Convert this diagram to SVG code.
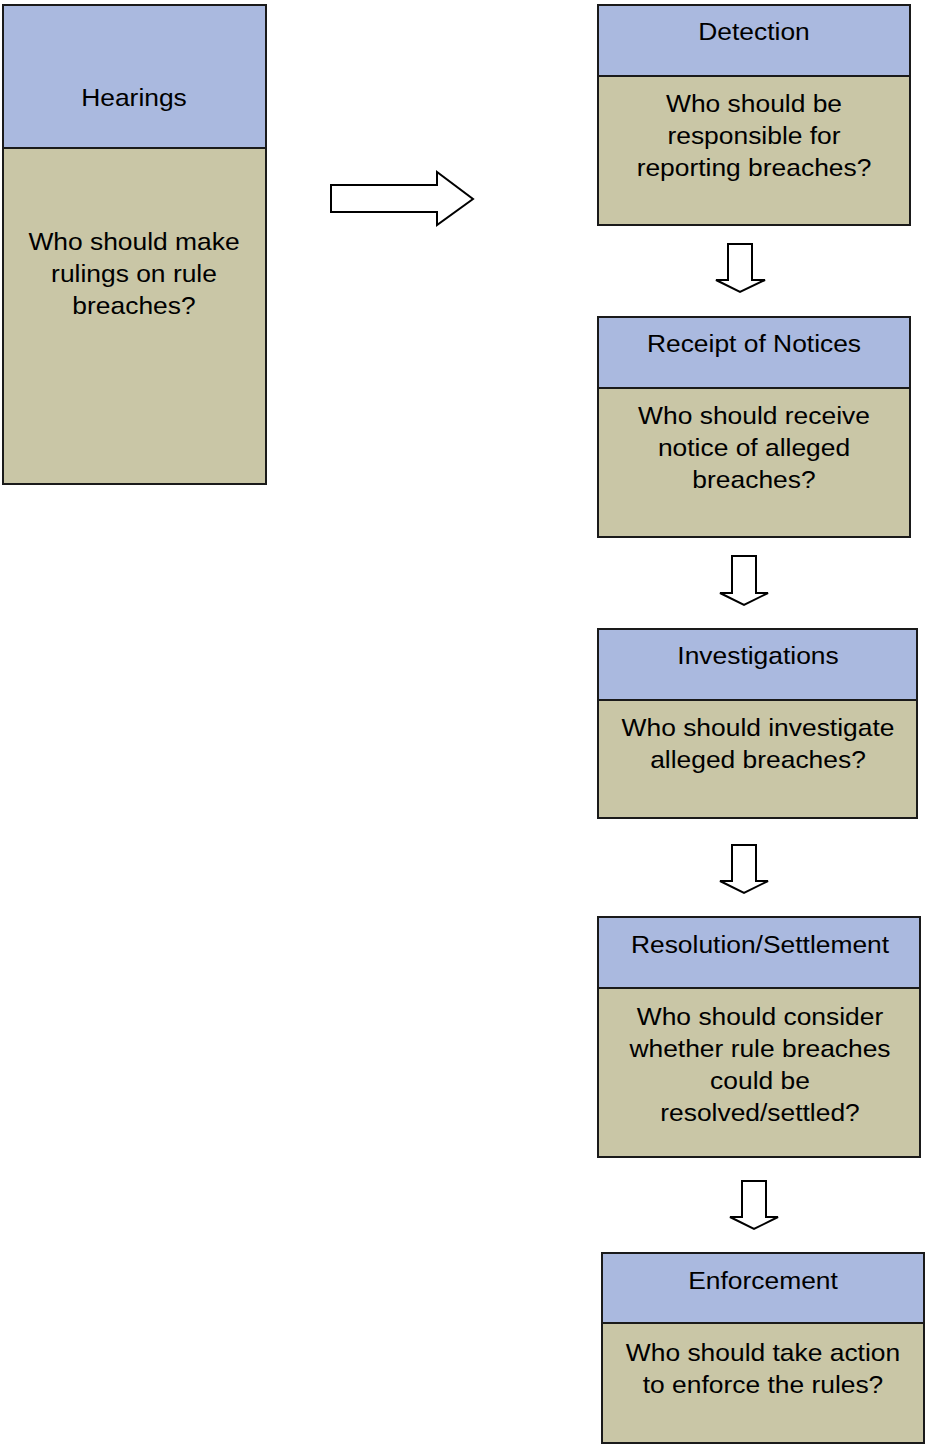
<svg xmlns="http://www.w3.org/2000/svg" width="926" height="1445" viewBox="0 0 926 1445">
<style>
.hd{fill:#aab9df;stroke:#1a1a1a;stroke-width:2}
.bd{fill:#c9c6a6;stroke:#1a1a1a;stroke-width:2}
.t{font-family:"Liberation Sans",Arial,sans-serif;font-size:24px;fill:#000;text-anchor:middle}
.ar{fill:#fff;stroke:#000;stroke-width:2;stroke-linejoin:miter}
</style>
<rect width="926" height="1445" fill="#fff"/>
<g id="hearings">
<rect class="bd" x="3" y="148" width="263" height="336"/>
<rect class="hd" x="3" y="5" width="263" height="143"/>
<g transform="translate(134 0) scale(1.1 1)">
<text class="t" x="0" y="106">Hearings</text>
<text class="t" x="0" y="250">Who should make</text>
<text class="t" x="0" y="282">rulings on rule</text>
<text class="t" x="0" y="314">breaches?</text>
</g>
</g>
<g id="detection">
<rect class="bd" x="598" y="76" width="312" height="149"/>
<rect class="hd" x="598" y="5" width="312" height="71"/>
<g transform="translate(754 0) scale(1.1 1)">
<text class="t" x="0" y="40">Detection</text>
<text class="t" x="0" y="112">Who should be</text>
<text class="t" x="0" y="144">responsible for</text>
<text class="t" x="0" y="176">reporting breaches?</text>
</g>
</g>
<g id="receipt">
<rect class="bd" x="598" y="388" width="312" height="149"/>
<rect class="hd" x="598" y="317" width="312" height="71"/>
<g transform="translate(754 0) scale(1.1 1)">
<text class="t" x="0" y="352">Receipt of Notices</text>
<text class="t" x="0" y="424">Who should receive</text>
<text class="t" x="0" y="456">notice of alleged</text>
<text class="t" x="0" y="488">breaches?</text>
</g>
</g>
<g id="investigations">
<rect class="bd" x="598" y="700" width="319" height="118"/>
<rect class="hd" x="598" y="629" width="319" height="71"/>
<g transform="translate(758 0) scale(1.1 1)">
<text class="t" x="0" y="664">Investigations</text>
<text class="t" x="0" y="736">Who should investigate</text>
<text class="t" x="0" y="768">alleged breaches?</text>
</g>
</g>
<g id="resolution">
<rect class="bd" x="598" y="988" width="322" height="169"/>
<rect class="hd" x="598" y="917" width="322" height="71"/>
<g transform="translate(760 0) scale(1.1 1)">
<text class="t" x="0" y="953">Resolution/Settlement</text>
<text class="t" x="0" y="1025">Who should consider</text>
<text class="t" x="0" y="1057">whether rule breaches</text>
<text class="t" x="0" y="1089">could be</text>
<text class="t" x="0" y="1121">resolved/settled?</text>
</g>
</g>
<g id="enforcement">
<rect class="bd" x="602" y="1323" width="322" height="120"/>
<rect class="hd" x="602" y="1253" width="322" height="70"/>
<g transform="translate(763 0) scale(1.1 1)">
<text class="t" x="0" y="1289">Enforcement</text>
<text class="t" x="0" y="1361">Who should take action</text>
<text class="t" x="0" y="1393">to enforce the rules?</text>
</g>
</g>
<g id="connectors">
<path class="ar" d="M331,185 H437 V172 L473,199 L437,225 V212 H331 Z"/>
<path class="ar" d="M728,244 H752 V280 H765 L740,292 L716,280 H728 Z"/>
<path class="ar" d="M732,556 H756 V593 H768 L744,605 L720,593 H732 Z"/>
<path class="ar" d="M732,845 H756 V881 H768 L744,893 L720,881 H732 Z"/>
<path class="ar" d="M742,1181 H766 V1217 H778 L754,1229 L730,1217 H742 Z"/>
</g>
</svg>
